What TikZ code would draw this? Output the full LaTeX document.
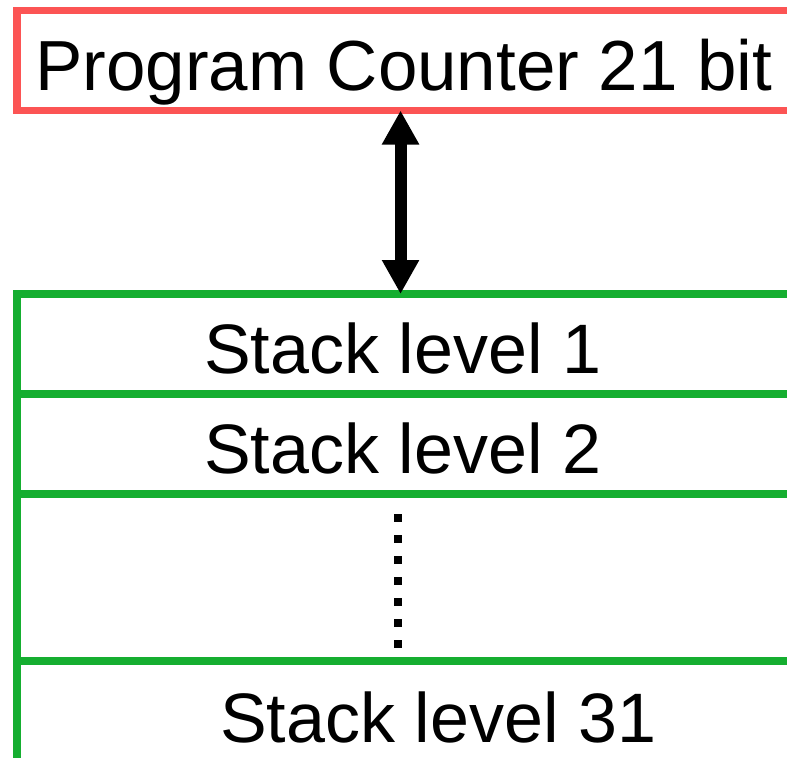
\documentclass[tikz,border=0pt]{standalone}
\usepackage{fontspec}
\setmainfont{Liberation Sans}
\usetikzlibrary{positioning,arrows.meta}
\definecolor{pcred}{RGB}{252, 84, 84}
\definecolor{stackgreen}{RGB}{21, 174, 48}

\begin{document}
\begin{tikzpicture}[x=0.75pt, y=-0.75pt,
    font=\fontsize{52.5pt}{60pt}\selectfont,
    pcbox/.style={draw=pcred, line width=5.6pt, rectangle, inner sep=0pt, outer sep=0pt,
      minimum width=580.5pt, minimum height=75pt},
    cell/.style={draw=stackgreen, line width=5.6pt, rectangle, inner sep=0pt, outer sep=0pt,
      minimum width=587.25pt, minimum height=75pt},
    lbl/.style={inner sep=0pt, anchor=base west},
    dblarrow/.style={line width=9pt, {Triangle[length=25.5pt,width=26.25pt]}-{Triangle[length=25.5pt,width=26.25pt]}},
    vdots/.style={line width=6pt, dash pattern=on 6pt off 9.75pt}]
  \useasboundingbox (0,0) rectangle (787,757);
  \clip (0,0) rectangle (787,757);

  % program counter
  \node[pcbox, anchor=north west] (pc) at (17,10.5) {};
  \node[lbl, font=\fontsize{53.2pt}{60pt}\selectfont] (pclbl) at (35,90) {Program Counter 21 bit};

  % stack cells
  \node[cell, anchor=north west] (s1) at (17,294) {};
  \node[cell, below=0pt of s1] (s2) {};
  \node[cell, below=0pt of s2, minimum height=125.25pt] (gap) {};
  \node[cell, below=0pt of gap, minimum height=95pt] (s31) {};

  \node[lbl] (t1) at (204,373) {Stack level 1};
  \node[lbl] (t2) at (204,473) {Stack level 2};
  \node[lbl] (t31) at (220,742) {Stack level 31};

  \coordinate (dtop) at (398,514);
  \coordinate (dbot) at (398,649);
  \draw[vdots] (dtop) -- (dbot);

  \draw[dblarrow] ([xshift=-2.6pt]pc.south) -- ([xshift=-2.6pt]pc.south |- s1.north);
\end{tikzpicture}
\end{document}
